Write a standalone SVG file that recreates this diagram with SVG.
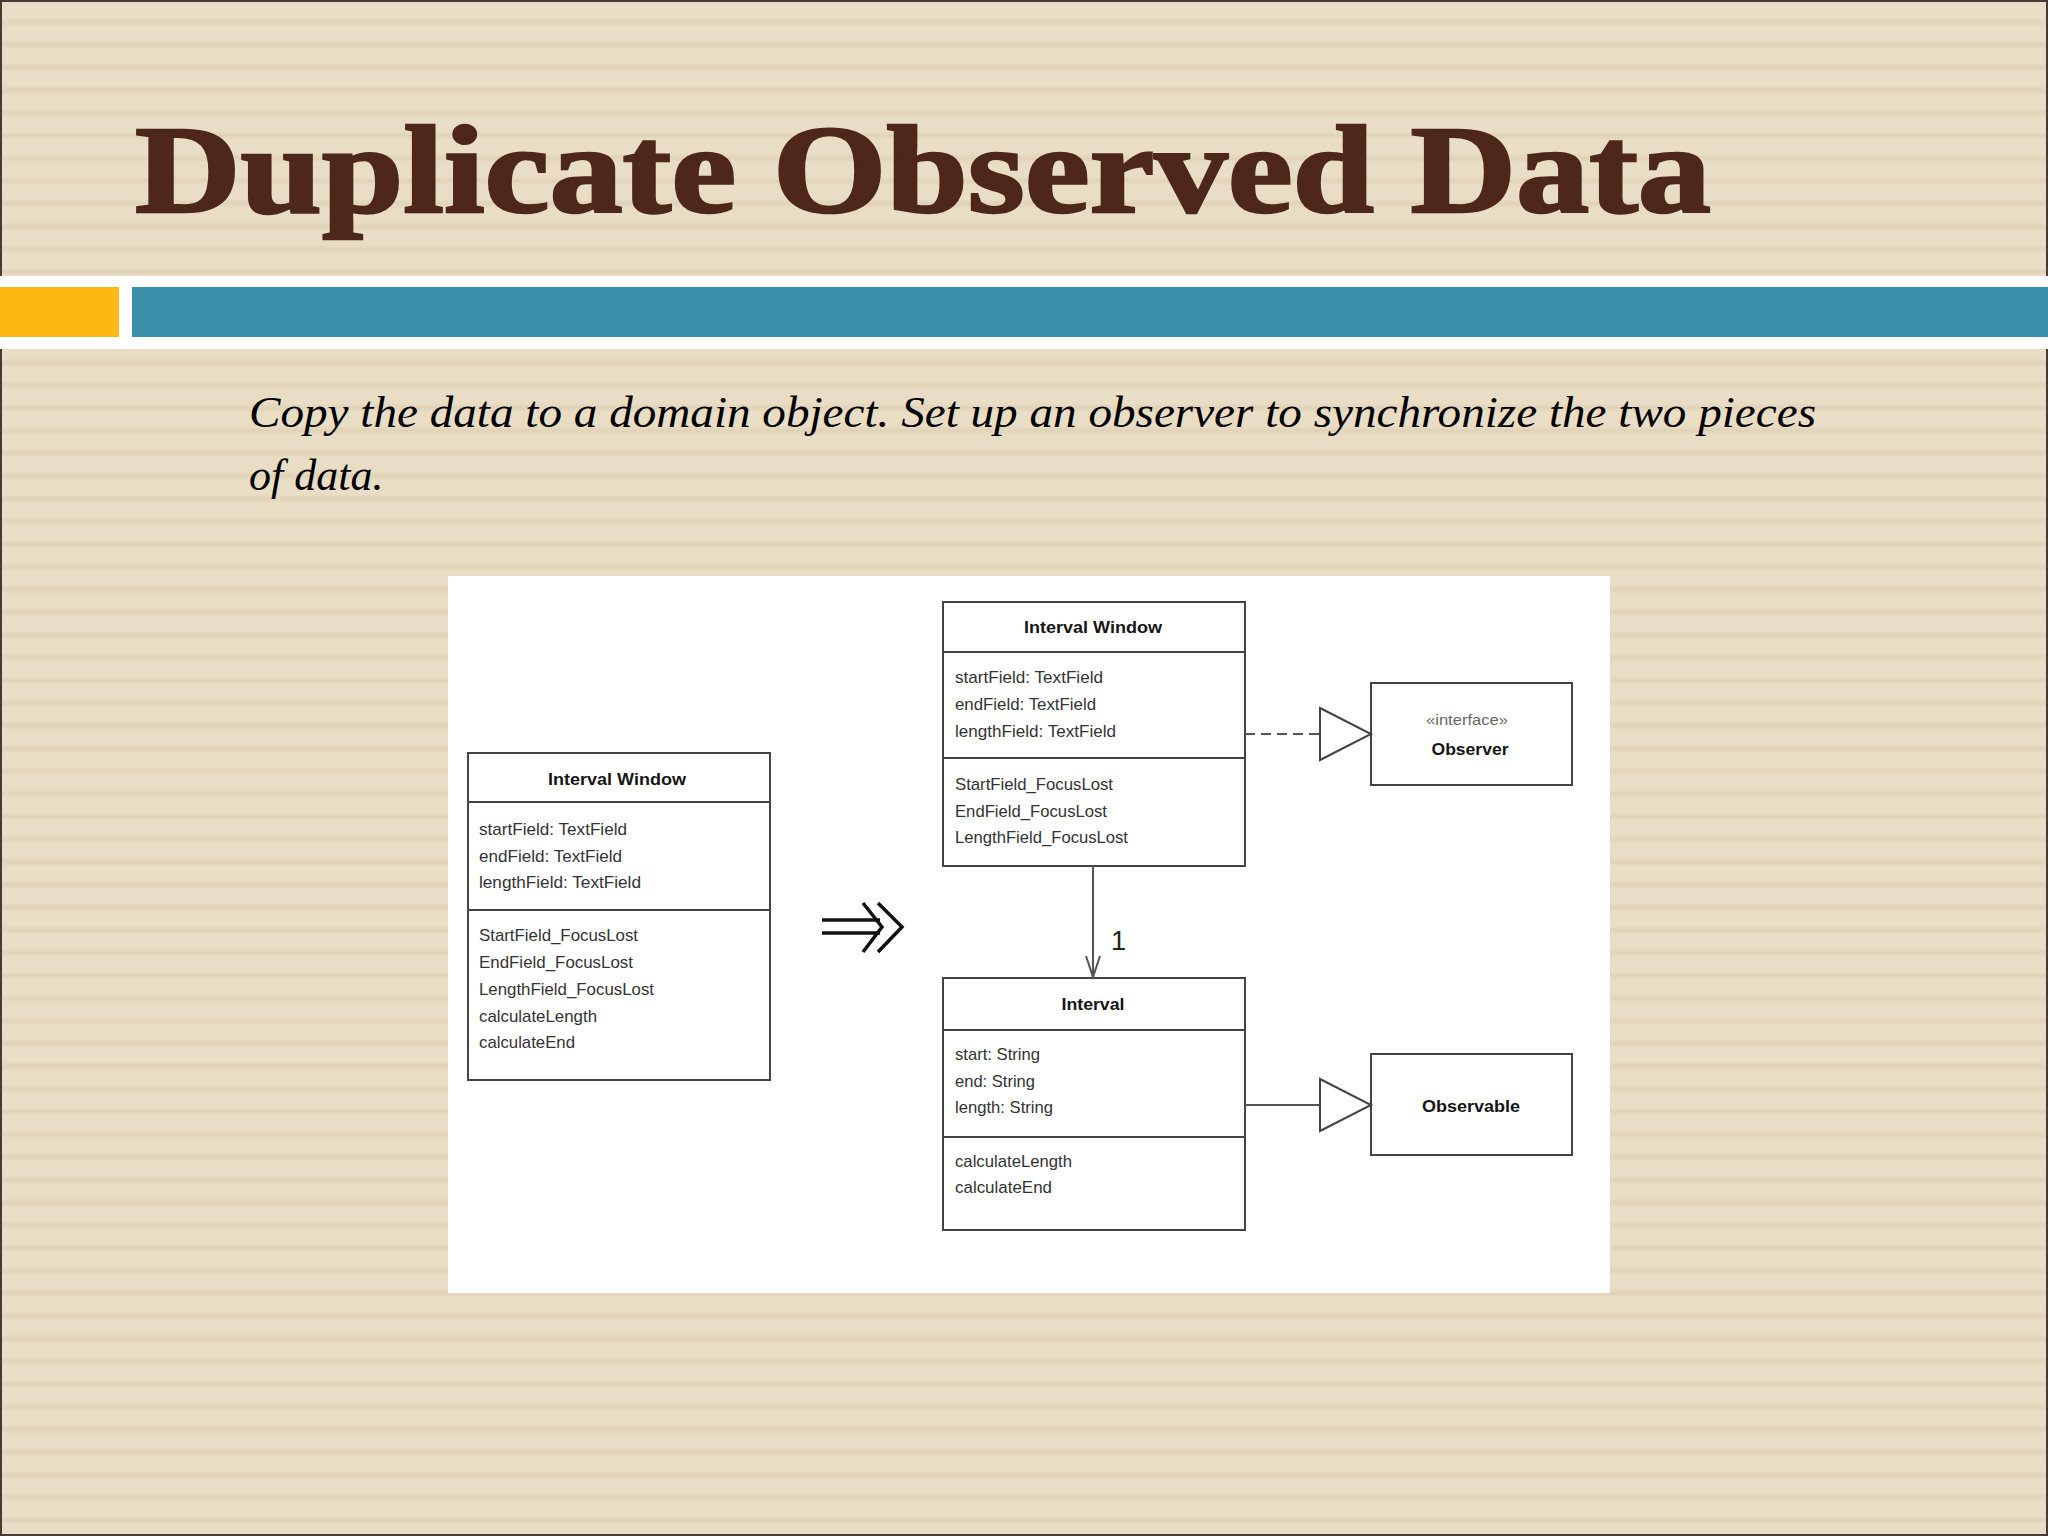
<svg xmlns="http://www.w3.org/2000/svg" width="2048" height="1536" viewBox="0 0 2048 1536">
  <defs>
    <linearGradient id="stripeGrad" x1="0" y1="0" x2="0" y2="1">
      <stop offset="0" stop-color="#E9DDC5"/>
      <stop offset="0.3" stop-color="#E9DDC5"/>
      <stop offset="0.5" stop-color="#E0D3B8"/>
      <stop offset="0.7" stop-color="#E9DDC5"/>
      <stop offset="1" stop-color="#E9DDC5"/>
    </linearGradient>
    <pattern id="stripes" patternUnits="userSpaceOnUse" x="0" y="10.65" width="2048" height="22.7">
      <rect x="0" y="0" width="2048" height="22.7" fill="url(#stripeGrad)"/>
    </pattern>
    <style>
      .box { fill: #ffffff; stroke: #444444; stroke-width: 2; }
      .div { stroke: #444444; stroke-width: 2; }
      .ttl { font-family: "Liberation Sans", Arial, sans-serif; font-size: 17px; font-weight: bold; fill: #151515; }
      .itm { font-family: "Liberation Sans", Arial, sans-serif; font-size: 17px; fill: #333333; }
      .conn { stroke: #555555; stroke-width: 2; fill: none; }
      .tri { stroke: #444444; stroke-width: 2; fill: #ffffff; }
    </style>
  </defs>

  <!-- background -->
  <rect x="0" y="0" width="2048" height="1536" fill="url(#stripes)"/>
  <rect x="1" y="1" width="2046" height="1534" fill="none" stroke="#4a3a36" stroke-width="2"/>

  <!-- title -->
  <text x="135" y="212" font-family="'Liberation Serif', 'Times New Roman', serif" font-weight="bold" font-size="124" fill="#4E271B" stroke="#4E271B" stroke-width="2.5" textLength="1576" lengthAdjust="spacingAndGlyphs">Duplicate Observed Data</text>

  <!-- band -->
  <rect x="0" y="276" width="2048" height="73" fill="#ffffff"/>
  <rect x="0" y="287" width="119" height="50" fill="#FDB913"/>
  <rect x="132" y="287" width="1916" height="50" fill="#3A90A9"/>

  <!-- subtitle -->
  <text font-family="'Liberation Serif', 'Times New Roman', serif" font-style="italic" font-size="44" fill="#000000">
    <tspan x="249" y="427" textLength="1567" lengthAdjust="spacingAndGlyphs">Copy the data to a domain object. Set up an observer to synchronize the two pieces</tspan>
    <tspan x="249" y="490">of data.</tspan>
  </text>

  <!-- white diagram area -->
  <rect x="448" y="576" width="1162" height="717" fill="#ffffff"/>

  <!-- Left: Interval Window (before) -->
  <g id="node-interval-window-before">
    <rect class="box" x="468" y="753" width="302" height="327"/>
    <line class="div" x1="468" y1="802" x2="770" y2="802"/>
    <line class="div" x1="468" y1="910" x2="770" y2="910"/>
    <text class="ttl" x="617" y="785" text-anchor="middle" textLength="138" lengthAdjust="spacingAndGlyphs">Interval Window</text>
    <text class="itm" x="479" y="835" textLength="148" lengthAdjust="spacingAndGlyphs">startField: TextField</text>
    <text class="itm" x="479" y="862" textLength="143" lengthAdjust="spacingAndGlyphs">endField: TextField</text>
    <text class="itm" x="479" y="888" textLength="162" lengthAdjust="spacingAndGlyphs">lengthField: TextField</text>
    <text class="itm" x="479" y="941" textLength="159" lengthAdjust="spacingAndGlyphs">StartField_FocusLost</text>
    <text class="itm" x="479" y="968" textLength="154" lengthAdjust="spacingAndGlyphs">EndField_FocusLost</text>
    <text class="itm" x="479" y="995" textLength="175" lengthAdjust="spacingAndGlyphs">LengthField_FocusLost</text>
    <text class="itm" x="479" y="1022" textLength="118" lengthAdjust="spacingAndGlyphs">calculateLength</text>
    <text class="itm" x="479" y="1048" textLength="96" lengthAdjust="spacingAndGlyphs">calculateEnd</text>
  </g>

  <!-- Right: Interval Window (after) -->
  <g id="node-interval-window-after">
    <rect class="box" x="943" y="602" width="302" height="264"/>
    <line class="div" x1="943" y1="652" x2="1245" y2="652"/>
    <line class="div" x1="943" y1="758" x2="1245" y2="758"/>
    <text class="ttl" x="1093" y="633" text-anchor="middle" textLength="138" lengthAdjust="spacingAndGlyphs">Interval Window</text>
    <text class="itm" x="955" y="683" textLength="148" lengthAdjust="spacingAndGlyphs">startField: TextField</text>
    <text class="itm" x="955" y="710" textLength="141" lengthAdjust="spacingAndGlyphs">endField: TextField</text>
    <text class="itm" x="955" y="737" textLength="161" lengthAdjust="spacingAndGlyphs">lengthField: TextField</text>
    <text class="itm" x="955" y="790" textLength="158" lengthAdjust="spacingAndGlyphs">StartField_FocusLost</text>
    <text class="itm" x="955" y="817" textLength="152" lengthAdjust="spacingAndGlyphs">EndField_FocusLost</text>
    <text class="itm" x="955" y="843" textLength="173" lengthAdjust="spacingAndGlyphs">LengthField_FocusLost</text>
  </g>

  <!-- Observer interface -->
  <g id="node-observer">
    <rect class="box" x="1371" y="683" width="201" height="102"/>
    <text x="1467" y="725" text-anchor="middle" font-family="'Liberation Sans', Arial, sans-serif" font-size="15" fill="#666666" textLength="82" lengthAdjust="spacingAndGlyphs">«interface»</text>
    <text class="ttl" x="1470" y="755" text-anchor="middle" textLength="77" lengthAdjust="spacingAndGlyphs">Observer</text>
  </g>

  <!-- Interval -->
  <g id="node-interval">
    <rect class="box" x="943" y="978" width="302" height="252"/>
    <line class="div" x1="943" y1="1030" x2="1245" y2="1030"/>
    <line class="div" x1="943" y1="1137" x2="1245" y2="1137"/>
    <text class="ttl" x="1093" y="1010" text-anchor="middle" textLength="63" lengthAdjust="spacingAndGlyphs">Interval</text>
    <text class="itm" x="955" y="1060" textLength="85" lengthAdjust="spacingAndGlyphs">start: String</text>
    <text class="itm" x="955" y="1087" textLength="80" lengthAdjust="spacingAndGlyphs">end: String</text>
    <text class="itm" x="955" y="1113" textLength="98" lengthAdjust="spacingAndGlyphs">length: String</text>
    <text class="itm" x="955" y="1167" textLength="117" lengthAdjust="spacingAndGlyphs">calculateLength</text>
    <text class="itm" x="955" y="1193" textLength="97" lengthAdjust="spacingAndGlyphs">calculateEnd</text>
  </g>

  <!-- Observable -->
  <g id="node-observable">
    <rect class="box" x="1371" y="1054" width="201" height="101"/>
    <text class="ttl" x="1471" y="1112" text-anchor="middle" textLength="98" lengthAdjust="spacingAndGlyphs">Observable</text>
  </g>

  <!-- connectors -->
  <g id="connectors">
    <!-- refactoring arrow -->
    <g stroke="#111111" stroke-width="3.5" fill="none" stroke-linecap="butt">
      <line x1="822" y1="920" x2="880" y2="920"/>
      <line x1="822" y1="933" x2="880" y2="933"/>
      <polyline points="863,903 882,927 863,952"/>
      <polyline points="878,903 902,927 878,952"/>
    </g>
    <!-- realization: Interval Window -> Observer -->
    <line class="conn" x1="1245" y1="734" x2="1320" y2="734" stroke-dasharray="10,6"/>
    <polygon class="tri" points="1320,708 1371,734 1320,760"/>
    <!-- association: Interval Window -> Interval -->
    <line class="conn" x1="1093" y1="866" x2="1093" y2="977"/>
    <polyline class="conn" points="1086,956 1093,977 1100,956"/>
    <text x="1111" y="950" font-family="'Liberation Sans', Arial, sans-serif" font-size="27" fill="#222222">1</text>
    <!-- generalization: Interval -> Observable -->
    <line class="conn" x1="1245" y1="1105" x2="1320" y2="1105"/>
    <polygon class="tri" points="1320,1079 1371,1105 1320,1131"/>
  </g>
</svg>
